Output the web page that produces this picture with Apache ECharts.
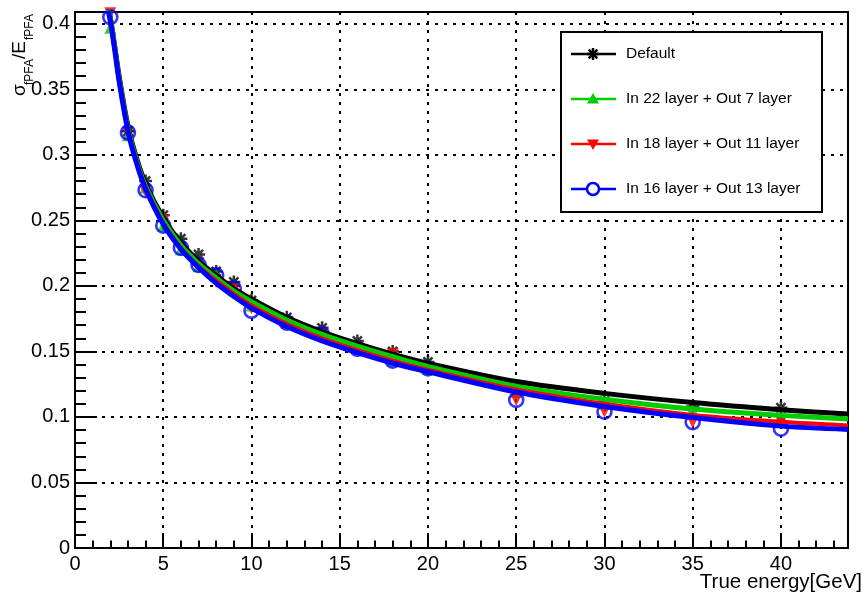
<!DOCTYPE html>
<html><head><meta charset="utf-8">
<script src="https://cdn.jsdelivr.net/npm/echarts@6.0.0/dist/echarts.min.js"></script>
<style>html,body{margin:0;padding:0;background:#fff}#c{width:865px;height:595px}</style>
</head><body><div id="c"></div>
<script>
// ---- data ----
const seriesNames = ['Default', 'In 22 layer + Out 7 layer', 'In 18 layer + Out 11 layer', 'In 16 layer + Out 13 layer'];
const energies = [2, 3, 4, 5, 6, 7, 8, 9, 10, 12, 14, 16, 18, 20, 25, 30, 35, 40];
const resDefault   = [0.410, 0.318, 0.280, 0.254, 0.236, 0.224, 0.211, 0.203, 0.189, 0.176, 0.168, 0.158, 0.150, 0.142, 0.122, 0.112, 0.108, 0.107];
const resIn22Out7  = [0.397, 0.315, 0.275, 0.246, 0.228, 0.215, 0.208, 0.197, 0.185, 0.172, 0.163, 0.153, 0.143, 0.137, 0.119, 0.110, 0.105, 0.101];
const resIn18Out11 = [0.408, 0.317, 0.272, 0.250, 0.229, 0.217, 0.203, 0.197, 0.183, 0.172, 0.163, 0.153, 0.148, 0.137, 0.113, 0.104, 0.096, 0.097];
const resIn16Out13 = [0.405, 0.317, 0.273, 0.246, 0.229, 0.216, 0.208, 0.198, 0.181, 0.172, 0.163, 0.152, 0.143, 0.137, 0.113, 0.104, 0.096, 0.091];
// fitted curves
const fitX          = [1.88, 2, 2.25, 2.5, 3, 3.5, 4, 5, 6, 7, 8, 9, 10, 12, 14, 16, 18, 20, 25, 30, 35, 40, 43.8];
const fitDefault    = [0.412, 0.405, 0.383, 0.360, 0.322, 0.297, 0.278, 0.252, 0.233, 0.219, 0.208, 0.198, 0.190, 0.176, 0.165, 0.156, 0.148, 0.141, 0.127, 0.118, 0.111, 0.1055, 0.1022];
const fitIn22Out7   = [0.411, 0.404, 0.382, 0.358, 0.320, 0.295, 0.276, 0.250, 0.231, 0.217, 0.206, 0.196, 0.188, 0.174, 0.163, 0.154, 0.146, 0.1385, 0.1235, 0.1135, 0.106, 0.1012, 0.0985];
const fitIn18Out11  = [0.410, 0.403, 0.381, 0.357, 0.319, 0.294, 0.275, 0.248, 0.229, 0.215, 0.204, 0.194, 0.185, 0.171, 0.160, 0.151, 0.143, 0.136, 0.121, 0.110, 0.1015, 0.0963, 0.0935];
const fitIn16Out13  = [0.410, 0.402, 0.380, 0.356, 0.318, 0.293, 0.274, 0.247, 0.228, 0.214, 0.202, 0.192, 0.183, 0.169, 0.158, 0.149, 0.141, 0.1345, 0.119, 0.108, 0.0995, 0.093, 0.0905];
const xTickLabels = ['0', '5', '10', '15', '20', '25', '30', '35', '40'];
const yTickLabels = ['0', '0.05', '0.1', '0.15', '0.2', '0.25', '0.3', '0.35', '0.4'];
const xTitle = 'True energy[GeV]';

// ---- rendering ----
const FONT = '"Liberation Sans", Arial, Helvetica, sans-serif';
const COLORS = ['#000000', '#00cc00', '#ff0000', '#0000ff'];
const X_MAX = 43.8, Y_MAX = 0.409;
const GRID = {left: 75, top: 12, width: 773, height: 536};
const STAR = 'path://M0,5L10,5M5,0L5,10M1.5,1.5L8.5,8.5M8.5,1.5L1.5,8.5';

const pts = [resDefault, resIn22Out7, resIn18Out11, resIn16Out13];
const fits = [fitDefault, fitIn22Out7, fitIn18Out11, fitIn16Out13];
const pair = (xs, ys) => xs.map((x, i) => [x, ys[i]]);

const markerCfg = [
  {symbol: STAR, symbolSize: 13, itemStyle: {color: COLORS[0], borderColor: COLORS[0], borderWidth: 2.5}},
  {symbol: 'triangle', symbolSize: 12, itemStyle: {color: COLORS[1]}},
  {symbol: 'triangle', symbolSize: 12, symbolRotate: 180, itemStyle: {color: COLORS[2]}},
  {symbol: 'circle', symbolSize: 14, itemStyle: {color: 'rgba(0,0,0,0)', borderColor: COLORS[3], borderWidth: 2.6}}
];
const lineWidths = [5, 5, 4, 5];

const series = [];
for (let k = 0; k < 4; k++) {
  series.push(Object.assign({
    type: 'scatter', name: seriesNames[k], data: pair(energies, pts[k]),
    xAxisIndex: 0, yAxisIndex: 0, silent: true
  }, markerCfg[k]));
  series.push({
    type: 'line', name: seriesNames[k] + ' fit', data: pair(fitX, fits[k]),
    xAxisIndex: 0, yAxisIndex: 0, showSymbol: false, smooth: 0.3,
    lineStyle: {color: COLORS[k], width: lineWidths[k]}, silent: true, clip: true
  });
}

const fmt = (labels) => (v) => {
  const s = String(+(+v).toFixed(3));
  return labels.indexOf(s) >= 0 ? s : '';
};

const axisCommon = {min: 0, splitArea: {show: false}};
const gridLine = {color: '#000', width: 2, type: [3, 6]};
const xAxes = [
  Object.assign({}, axisCommon, {
    type: 'value', max: X_MAX, interval: 5, position: 'bottom',
    axisLine: {show: true, onZero: false, lineStyle: {color: '#000', width: 2}},
    axisTick: {show: true, inside: true, length: 15, lineStyle: {color: '#000', width: 2}},
    axisLabel: {show: true, color: '#000', fontSize: 20, fontFamily: FONT, margin: 6, formatter: fmt(xTickLabels), showMaxLabel: false},
    splitLine: {show: true, lineStyle: gridLine}
  }),
  Object.assign({}, axisCommon, {
    type: 'value', max: X_MAX, interval: 1, position: 'bottom',
    axisLine: {show: false}, axisLabel: {show: false}, splitLine: {show: false},
    axisTick: {show: true, inside: true, length: 7.5, lineStyle: {color: '#000', width: 2}}
  })
];
const yAxes = [
  Object.assign({}, axisCommon, {
    type: 'value', max: Y_MAX, interval: 0.05, position: 'left',
    axisLine: {show: true, onZero: false, lineStyle: {color: '#000', width: 2}},
    axisTick: {show: true, inside: true, length: 22, lineStyle: {color: '#000', width: 2}},
    axisLabel: {show: true, color: '#000', fontSize: 20, fontFamily: FONT, margin: 5, formatter: fmt(yTickLabels), showMaxLabel: false},
    splitLine: {show: true, lineStyle: gridLine}
  }),
  Object.assign({}, axisCommon, {
    type: 'value', max: Y_MAX, interval: 0.01, position: 'left', offset: 0,
    axisLine: {show: false}, axisLabel: {show: false}, splitLine: {show: false},
    axisTick: {show: true, inside: true, length: 11, lineStyle: {color: '#000', width: 2}}
  })
];

// legend (drawn as graphic, like the ROOT TLegend)
const legendRows = [54, 99, 144, 189];
const LX0 = 571, LX1 = 616, MX = 593;
const graphics = [];
graphics.push({type: 'rect', z: 100, shape: {x: 561, y: 32, width: 261, height: 180},
  style: {fill: '#fff', stroke: '#000', lineWidth: 2}});
legendRows.forEach((y, k) => {
  graphics.push({type: 'line', z: 101, shape: {x1: LX0, y1: y, x2: LX1, y2: y}, style: {stroke: COLORS[k], lineWidth: 2.5}});
  if (k === 0) {
    const r = 6, d = 4.3;
    [[-r,0,r,0],[0,-r,0,r],[-d,-d,d,d],[d,-d,-d,d]].forEach(s => graphics.push({type: 'line', z: 102,
      shape: {x1: MX + s[0], y1: y + s[1], x2: MX + s[2], y2: y + s[3]}, style: {stroke: '#000', lineWidth: 2.5}}));
  } else if (k === 1) {
    graphics.push({type: 'polygon', z: 102, shape: {points: [[MX, y - 6], [MX - 6, y + 4.5], [MX + 6, y + 4.5]]}, style: {fill: COLORS[1]}});
  } else if (k === 2) {
    graphics.push({type: 'polygon', z: 102, shape: {points: [[MX, y + 6], [MX - 6, y - 4.5], [MX + 6, y - 4.5]]}, style: {fill: COLORS[2]}});
  } else {
    graphics.push({type: 'circle', z: 102, shape: {cx: MX, cy: y, r: 6}, style: {fill: '#fff', stroke: COLORS[3], lineWidth: 2.5}});
  }
  graphics.push({type: 'text', z: 102, x: 626, y: y,
    style: {text: seriesNames[k], font: '15.5px ' + FONT, fill: '#000', align: 'left', verticalAlign: 'middle', textAlign: 'left', textVerticalAlign: 'middle'}});
});
// x axis title
graphics.push({type: 'text', z: 100, x: 862, y: 582,
  style: {text: xTitle, font: '20.5px ' + FONT, fill: '#000', align: 'right', verticalAlign: 'middle', textAlign: 'right', textVerticalAlign: 'middle'}});
// y axis title: sigma_fPFA / E_fPFA, rotated
const mainF = '19px ' + FONT, subF = '12px ' + FONT;
const tpart = (txt, lx, ly, font) => ({type: 'text', x: lx, y: ly,
  style: {text: txt, font: font, fill: '#000', align: 'left', verticalAlign: 'middle', textAlign: 'left', textVerticalAlign: 'middle'}});
graphics.push({type: 'group', x: 0, y: 96, rotation: Math.PI / 2, z: 100, children: [
  tpart('σ', 0, 20, mainF),
  tpart('fPFA', 11, 30, subF),
  tpart('/E', 37, 20, mainF),
  tpart('fPFA', 56, 30, subF)
]});

const option = {
  animation: false,
  backgroundColor: '#fff',
  grid: Object.assign({show: true, borderColor: '#000', borderWidth: 2, backgroundColor: 'transparent', containLabel: false}, GRID),
  xAxis: xAxes,
  yAxis: yAxes,
  series: series,
  graphic: graphics
};
const chart = echarts.init(document.getElementById('c'), null, {renderer: 'canvas'});
chart.setOption(option);
</script>
</body></html>
